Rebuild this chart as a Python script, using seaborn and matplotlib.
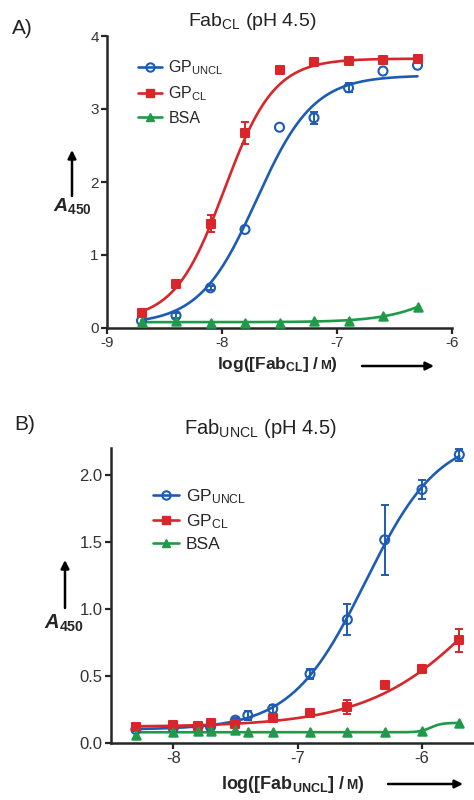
import numpy as np
import matplotlib
matplotlib.use("Agg")
import matplotlib.pyplot as plt
import seaborn as sns
from matplotlib.lines import Line2D

nan = np.nan

# ---- data panel A (Fab_CL) ----
xA = [-8.7, -8.4, -8.1, -7.8, -7.5, -7.2, -6.9, -6.6, -6.3]
A_uncl = [0.10, 0.17, 0.55, 1.35, 2.75, 2.88, 3.29, 3.52, 3.60]
A_uncl_err = [nan, 0.03, 0.03, nan, nan, 0.08, 0.06, nan, nan]
A_cl = [0.20, 0.60, 1.43, 2.67, 3.53, 3.65, 3.66, 3.67, 3.69]
A_cl_err = [nan, nan, 0.12, 0.15, nan, nan, nan, nan, nan]
A_bsa = [0.08, 0.10, 0.07, 0.07, 0.07, 0.09, 0.10, 0.16, 0.29]
A_bsa_err = [nan, nan, nan, nan, nan, nan, nan, nan, nan]

# ---- data panel B (Fab_UNCL) ----
xB = [-8.3, -8.0, -7.8, -7.7, -7.5, -7.4, -7.2, -6.9, -6.6, -6.3, -6.0, -5.7]
B_uncl = [0.10, 0.11, 0.12, 0.12, 0.17, 0.205, 0.255, 0.515, 0.92, 1.515, 1.89, 2.15]
B_uncl_err = [nan, nan, nan, nan, 0.02, 0.03, 0.03, 0.04, 0.115, 0.26, 0.07, 0.045]
B_cl = [0.12, 0.135, 0.13, 0.15, 0.14, nan, 0.186, 0.223, 0.27, 0.433, 0.55, 0.767]
B_cl_err = [0.02, 0.02, 0.02, 0.02, 0.02, nan, nan, nan, 0.05, nan, 0.03, 0.085]
B_bsa = [0.06, 0.08, 0.09, 0.09, 0.10, 0.08, 0.08, 0.08, 0.08, 0.08, 0.09, 0.15]
B_bsa_err = [0.03, nan, 0.015, 0.015, 0.03, nan, nan, nan, nan, nan, nan, nan]

# sigmoid fit parameters: bottom, top, logEC50, hill
fitA = {"uncl": (0.05, 3.46, -7.70, 1.75), "cl": (0.10, 3.69, -7.98, 2.0),
        "bsa": (0.08, 1.2, -5.9, 1.6)}
fitB = {"uncl": (0.10, 2.30, -6.456, 1.46), "cl": (0.12, 2.0, -5.4, 0.9),
        "bsa": (0.08, 0.15, -5.93, 10.0)}

blue = "#1d5cb4"
red = "#d8262a"
green = "#1f9a48"

sns.set_style("ticks")
plt.rcParams["font.family"] = ["Liberation Sans", "DejaVu Sans"]
plt.rcParams["mathtext.fontset"] = "custom"
plt.rcParams["mathtext.rm"] = "Liberation Sans"
plt.rcParams["mathtext.it"] = "Liberation Sans:italic"
plt.rcParams["mathtext.bf"] = "Liberation Sans:bold"
plt.rcParams["mathtext.bfit"] = "Liberation Sans:italic:bold"
plt.rcParams["axes.unicode_minus"] = False


def sigmoid(x, p):
    b, t, c, h = p
    return b + (t - b) / (1 + 10 ** ((c - x) * h))


def panel(ax, x, series, fits, fs):
    x = np.array(x)
    xs = np.linspace(x.min(), x.max(), 300)
    styles = {"uncl": (blue, "o", 42, "none"), "cl": (red, "s", 36, red),
              "bsa": (green, "^", 36, green)}
    for key, (y, err) in series.items():
        col, mk, s, fc = styles[key]
        sns.lineplot(x=xs, y=sigmoid(xs, fits[key]), ax=ax, color=col, lw=1.9)
        y = np.array(y, dtype=float)
        e = np.array(err, dtype=float)
        ok = ~np.isnan(e)
        if ok.any():
            ax.errorbar(x[ok], y[ok], yerr=e[ok], fmt="none", ecolor=col,
                        elinewidth=1.4, capsize=3, capthick=1.4, zorder=3)
        sns.scatterplot(x=x, y=y, ax=ax, marker=mk, s=s, facecolor=fc,
                        edgecolor=col, linewidth=1.5, zorder=4)
    sns.despine(ax=ax)
    for sp in ["left", "bottom"]:
        ax.spines[sp].set_linewidth(1.8)
    ax.tick_params(direction="out", length=4, width=1.6, labelsize=fs,
                   labelcolor="#333333", pad=2)
    handles = [Line2D([], [], color=blue, marker="o", mfc="none", mew=1.5, ms=6, lw=1.9),
               Line2D([], [], color=red, marker="s", ms=5.5, lw=1.9),
               Line2D([], [], color=green, marker="^", ms=5.5, lw=1.9)]
    labels = [r"GP$_{\mathrm{UNCL}}$", r"GP$_{\mathrm{CL}}$", "BSA"]
    return handles, labels


fig = plt.figure(figsize=(4.74, 8), dpi=100)

axA = fig.add_axes([107 / 474, 1 - 328 / 800, 345 / 474, 292 / 800])
h, l = panel(axA, xA, {"uncl": (A_uncl, A_uncl_err), "cl": (A_cl, A_cl_err),
                       "bsa": (A_bsa, A_bsa_err)}, fitA, 11)
axA.set_xlim(-9, -6)
axA.set_ylim(0, 4)
axA.set_xticks([-9, -8, -7, -6])
axA.set_yticks([0, 1, 2, 3, 4])
axA.legend(h, l, loc="upper left", bbox_to_anchor=(0.09, 0.922), frameon=False,
           fontsize=11.5, handlelength=1.5, handletextpad=0.4, labelspacing=0.45,
           borderpad=0, borderaxespad=0)

axB = fig.add_axes([111 / 474, 1 - 743 / 800, 362 / 474, 295 / 800])
h, l = panel(axB, xB, {"uncl": (B_uncl, B_uncl_err), "cl": (B_cl, B_cl_err),
                       "bsa": (B_bsa, B_bsa_err)}, fitB, 12)
axB.set_xlim(-8.5, -5.59)
axB.set_ylim(0, 2.2)
axB.set_xticks([-8, -7, -6])
axB.set_yticks([0, 0.5, 1.0, 1.5, 2.0])
axB.set_yticklabels(["0.0", "0.5", "1.0", "1.5", "2.0"])
axB.legend(h, l, loc="upper left", bbox_to_anchor=(0.115, 0.866), frameon=False,
           fontsize=12.5, handlelength=1.5, handletextpad=0.4, labelspacing=0.35,
           borderpad=0, borderaxespad=0)

for ax in (axA, axB):
    ax.set_xlabel("")
    ax.set_ylabel("")

# panel letters and titles
fig.text(12 / 474, 1 - 28 / 800, "A)", fontsize=15, va="center", ha="left", color="#222222")
fig.text(14 / 474, 1 - 425 / 800, "B)", fontsize=15, va="center", ha="left", color="#222222")
fig.text(252 / 474, 1 - 21 / 800, r"Fab$_{\mathrm{CL}}$ (pH 4.5)", fontsize=14,
         ha="center", va="center", color="#222222")
fig.text(260 / 474, 1 - 428 / 800, r"Fab$_{\mathrm{UNCL}}$ (pH 4.5)", fontsize=14.5,
         ha="center", va="center", color="#222222")


def arrow(x0, y0, x1, y1):
    axA.annotate("", xy=(x1 / 474, 1 - y1 / 800), xytext=(x0 / 474, 1 - y0 / 800),
                 xycoords="figure fraction", textcoords="figure fraction",
                 annotation_clip=False,
                 arrowprops=dict(arrowstyle="-|>", color="black", lw=1.8,
                                 mutation_scale=12, shrinkA=0, shrinkB=0))


# y labels with arrows
arrow(72, 196, 72, 150)
fig.text(72 / 474, 1 - 206 / 800, r"$\mathbfit{A}_{\mathbf{450}}$", fontsize=14,
         ha="center", va="center")
arrow(65, 608, 65, 560)
fig.text(64 / 474, 1 - 623 / 800, r"$\mathbfit{A}_{\mathbf{450}}$", fontsize=14.5,
         ha="center", va="center")


def xlabel(x, y, sub, fs):
    t = fig.text(x / 474, 1 - y / 800, r"log([Fab$_{\mathbf{%s}}$] / " % sub,
                 fontsize=fs, fontweight="bold", ha="left", va="baseline")
    fig.canvas.draw()
    bb = t.get_window_extent()
    t2 = fig.text(bb.x1 / 474, 1 - y / 800, "M", fontsize=fs * 0.75,
                  fontweight="bold", ha="left", va="baseline")
    fig.canvas.draw()
    bb2 = t2.get_window_extent()
    fig.text(bb2.x1 / 474, 1 - y / 800, ")", fontsize=fs, fontweight="bold",
             ha="left", va="baseline")


arrow(362, 366, 434, 366)
xlabel(217, 369, "CL", 12.5)
arrow(388, 784, 463, 784)
xlabel(221, 789, "UNCL", 13)

fig.savefig("out.png", dpi=100)
